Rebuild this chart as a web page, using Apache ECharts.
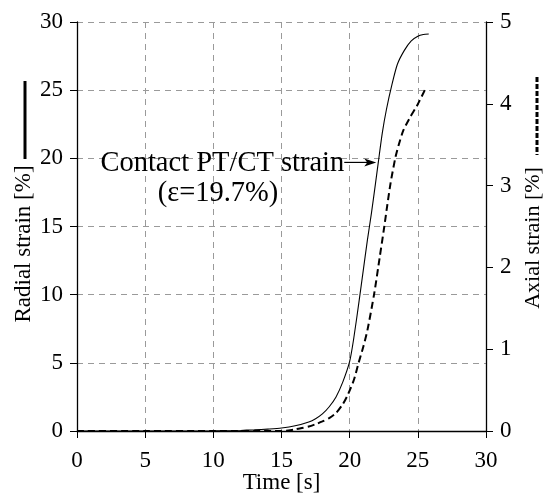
<!DOCTYPE html>
<html>
<head>
<meta charset="utf-8">
<script src="https://cdn.jsdelivr.net/npm/echarts@6/dist/echarts.min.js"></script>
<style>
  html, body { margin: 0; padding: 0; background: #fff; }
  #chart { width: 547px; height: 496px; }
</style>
</head>
<body>
<div id="chart"></div>
<script>
// Time axis ticks and value axis ranges
const timeTicks = [0, 5, 10, 15, 20, 25, 30];
const radialTicks = [0, 5, 10, 15, 20, 25, 30];
const axialTicks = [0, 1, 2, 3, 4, 5];

// Radial strain [%] vs time [s] (solid, left axis)
const radialTime = [0, 5, 10, 12, 13, 14, 15, 16, 17, 17.5, 18, 18.5, 19, 19.5, 20, 20.3, 20.7, 21.0, 21.3, 21.6, 21.9, 22.1, 22.4, 22.7, 23.1, 23.5, 24.0, 24.5, 25.0, 25.4, 25.8];
const radialStrain = [0, 0, 0.01, 0.04, 0.08, 0.14, 0.22, 0.38, 0.66, 0.9, 1.25, 1.78, 2.5, 3.6, 5.1, 6.8, 9.6, 11.8, 14.0, 16.0, 18.2, 19.7, 21.9, 23.6, 25.4, 26.9, 27.9, 28.6, 28.95, 29.08, 29.12];

// Axial strain [%] vs time [s] (dashed, right axis)
const axialTime = [0, 5, 10, 15, 15.5, 16, 16.5, 17, 17.5, 18, 18.5, 19, 19.5, 19.8, 20.3, 20.65, 21.0, 21.3, 21.8, 22.2, 22.54, 22.75, 23.0, 23.35, 23.6, 23.95, 24.45, 24.95, 25.55];
const axialStrain = [0, 0, 0, 0, 0.005, 0.02, 0.037, 0.055, 0.083, 0.117, 0.158, 0.22, 0.33, 0.42, 0.62, 0.83, 1.03, 1.23, 1.68, 2.12, 2.5, 2.75, 3.03, 3.34, 3.5, 3.68, 3.84, 3.98, 4.18];

// Contact annotation
const contactTime = 21.95;
const contactStrain = 19.7;
const contactLabel = 'Contact PT/CT strain';
const contactValue = '(ε=19.7%)';

const FONT = '"Liberation Serif", "DejaVu Serif", serif';
const chart = echarts.init(document.getElementById('chart'), null, { renderer: 'canvas' });

const gridLine = { show: true, lineStyle: { color: '#9a9a9a', type: [6, 5], width: 1 } };
const axisText = { color: '#000', fontFamily: FONT, fontSize: 23 };

chart.setOption({
  backgroundColor: '#fff',
  animation: false,
  grid: { left: 77, right: 61, top: 22, bottom: 65, containLabel: false, outerBoundsMode: 'none' },
  xAxis: {
    type: 'value', min: timeTicks[0], max: timeTicks[timeTicks.length - 1], interval: 5,
    axisLine: { show: true, onZero: false, lineStyle: { color: '#000', width: 1.3 } },
    axisTick: { show: true, inside: false, length: 7, lineStyle: { color: '#000', width: 1 } },
    axisLabel: Object.assign({ margin: 18 }, axisText),
    splitLine: gridLine
  },
  yAxis: [
    {
      type: 'value', min: radialTicks[0], max: radialTicks[radialTicks.length - 1], interval: 5,
      position: 'left',
      axisLine: { show: true, onZero: false, lineStyle: { color: '#000', width: 1.3 } },
      axisTick: { show: true, inside: false, length: 7, lineStyle: { color: '#000', width: 1 } },
      axisLabel: Object.assign({ margin: 14 }, axisText),
      splitLine: gridLine
    },
    {
      type: 'value', min: axialTicks[0], max: axialTicks[axialTicks.length - 1], interval: 1,
      position: 'right',
      axisLine: { show: true, onZero: false, lineStyle: { color: '#000', width: 1.3 } },
      axisTick: { show: true, inside: false, length: 7, lineStyle: { color: '#000', width: 1 } },
      axisLabel: Object.assign({ margin: 14 }, axisText),
      splitLine: { show: false }
    }
  ],
  series: [
    {
      name: 'Radial strain', type: 'line', yAxisIndex: 0, smooth: 0.25, showSymbol: false,
      data: radialTime.map((t, i) => [t, radialStrain[i]]),
      lineStyle: { color: '#000', width: 1.1, type: 'solid' },
      z: 3
    },
    {
      name: 'Axial strain', type: 'line', yAxisIndex: 1, smooth: 0.25, showSymbol: false,
      data: axialTime.map((t, i) => [t, axialStrain[i]]),
      lineStyle: { color: '#000', width: 2, type: [7, 4] },
      z: 3
    }
  ]
});

// Axis titles with line-style keys, and the contact annotation
const tip = chart.convertToPixel({ xAxisIndex: 0, yAxisIndex: 0 }, [contactTime, contactStrain]);
const arrowStartX = tip[0] - 32;
const xMid = chart.convertToPixel({ xAxisIndex: 0 }, (timeTicks[0] + timeTicks[timeTicks.length - 1]) / 2);
chart.setOption({
  graphic: [
    {
      type: 'text', x: xMid, y: 483,
      style: { text: 'Time [s]', fill: '#000', font: '23px ' + FONT, align: 'center', verticalAlign: 'middle' }
    },
    {
      type: 'text', x: 24, y: 244, rotation: Math.PI / 2,
      style: { text: 'Radial strain [%]', fill: '#000', font: '23px ' + FONT, align: 'center', verticalAlign: 'middle' }
    },
    {
      type: 'line', shape: { x1: 25, y1: 81, x2: 25, y2: 159 },
      style: { stroke: '#000', lineWidth: 3 }
    },
    {
      type: 'text', x: 533, y: 238, rotation: Math.PI / 2,
      style: { text: 'Axial strain [%]', fill: '#000', font: '22px ' + FONT, align: 'center', verticalAlign: 'middle' }
    },
    {
      type: 'line', shape: { x1: 537, y1: 77, x2: 537, y2: 155 },
      style: { stroke: '#000', lineWidth: 3, lineDash: [5, 2] }
    },
    {
      type: 'text', x: arrowStartX, y: tip[1] + 1, z: 10,
      style: { text: contactLabel, fill: '#000', font: '28.5px ' + FONT, align: 'right', verticalAlign: 'middle' }
    },
    {
      type: 'text', x: 218, y: tip[1] + 31, z: 10,
      style: { text: contactValue, fill: '#000', font: '28.5px ' + FONT, align: 'center', verticalAlign: 'middle' }
    },
    {
      type: 'line', z: 10, shape: { x1: arrowStartX, y1: tip[1], x2: tip[0] - 8, y2: tip[1] },
      style: { stroke: '#000', lineWidth: 1.2 }
    },
    {
      type: 'polygon', z: 10,
      shape: { points: [[tip[0], tip[1]], [tip[0] - 12, tip[1] - 4], [tip[0] - 9, tip[1]], [tip[0] - 12, tip[1] + 4]] },
      style: { fill: '#000' }
    }
  ]
});
</script>
</body>
</html>
